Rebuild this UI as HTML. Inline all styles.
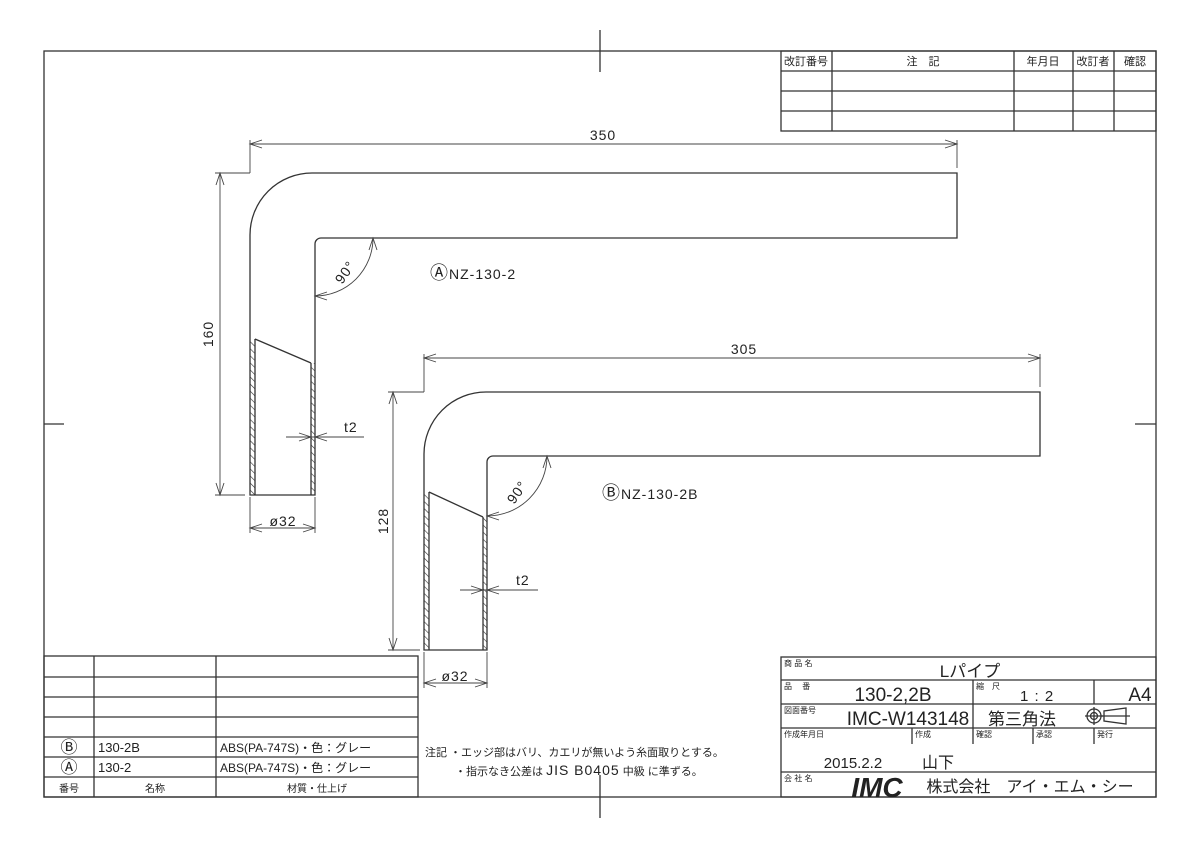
<!DOCTYPE html>
<html><head><meta charset="utf-8"><style>
html,body{margin:0;padding:0;background:#fff}
svg{display:block}
text{font-family:"Liberation Sans","Noto Sans CJK JP",sans-serif;fill:#222}
</style></head><body>
<svg width="1200" height="848" viewBox="0 0 1200 848" xmlns="http://www.w3.org/2000/svg">
<defs>
<pattern id="h" width="5" height="5" patternUnits="userSpaceOnUse" patternTransform="rotate(-45)">
<line x1="0" y1="0" x2="0" y2="5" stroke="#333" stroke-width="1.2"/>
</pattern>
</defs>
<g fill="none" stroke="#333" stroke-width="1.3">
<rect x="44" y="51" width="1112" height="746"/>
<line x1="600" y1="30" x2="600" y2="72"/>
<line x1="600" y1="775" x2="600" y2="818"/>
<line x1="44" y1="424" x2="64" y2="424"/>
<line x1="1135" y1="424" x2="1156" y2="424"/>
<rect x="781" y="51" width="375" height="80"/>
<line x1="781" y1="71" x2="1156" y2="71"/>
<line x1="781" y1="91" x2="1156" y2="91"/>
<line x1="781" y1="111" x2="1156" y2="111"/>
<line x1="832" y1="51" x2="832" y2="131"/>
<line x1="1014" y1="51" x2="1014" y2="131"/>
<line x1="1073" y1="51" x2="1073" y2="131"/>
<line x1="1114" y1="51" x2="1114" y2="131"/>
<rect x="44" y="656" width="374" height="141"/>
<line x1="44" y1="677" x2="418" y2="677"/>
<line x1="44" y1="697" x2="418" y2="697"/>
<line x1="44" y1="717" x2="418" y2="717"/>
<line x1="44" y1="737" x2="418" y2="737"/>
<line x1="44" y1="757" x2="418" y2="757"/>
<line x1="44" y1="777" x2="418" y2="777"/>
<line x1="94" y1="656" x2="94" y2="797"/>
<line x1="216" y1="656" x2="216" y2="797"/>
<rect x="781" y="657" width="375" height="140"/>
<line x1="781" y1="680" x2="1156" y2="680"/>
<line x1="781" y1="704" x2="1156" y2="704"/>
<line x1="781" y1="728" x2="1156" y2="728"/>
<line x1="781" y1="772" x2="1156" y2="772"/>
<line x1="973" y1="680" x2="973" y2="744"/>
<line x1="1094" y1="680" x2="1094" y2="704"/>
<line x1="912" y1="728" x2="912" y2="744"/>
<line x1="1033" y1="728" x2="1033" y2="744"/>
<line x1="1094" y1="728" x2="1094" y2="744"/>
<path d="M250 495 L250 235 A62 62 0 0 1 312 173 L957 173 L957 238 L321 238 A6 6 0 0 0 315 244 L315 495 Z"/>
<line x1="255" y1="339" x2="311" y2="363"/>
<line x1="255" y1="339" x2="255" y2="495"/>
<line x1="311" y1="363" x2="311" y2="495"/>
<path d="M424 650 L424 454 A62 62 0 0 1 486 392 L1040 392 L1040 456 L493 456 A6 6 0 0 0 487 462 L487 650 Z"/>
<line x1="429" y1="492" x2="483" y2="517"/>
<line x1="429" y1="492" x2="429" y2="650"/>
<line x1="483" y1="517" x2="483" y2="650"/>
</g>
<g stroke="none" fill="url(#h)">
<rect x="250" y="339" width="5" height="156"/>
<rect x="311" y="363" width="4" height="132"/>
<rect x="424" y="492" width="5" height="158"/>
<rect x="483" y="517" width="4" height="133"/>
</g>
<g fill="none" stroke="#444" stroke-width="0.9">
<line x1="250" y1="140" x2="250" y2="173"/>
<line x1="957" y1="140" x2="957" y2="168"/>
<line x1="250" y1="144" x2="957" y2="144"/>
<path d="M262 140 L250 144 L262 148 M945 140 L957 144 L945 148"/>
<line x1="215" y1="173" x2="250" y2="173"/>
<line x1="215" y1="495" x2="245" y2="495"/>
<line x1="220" y1="173" x2="220" y2="495"/>
<path d="M216 185 L220 173 L224 185 M216 483 L220 495 L224 483"/>
<line x1="250" y1="497" x2="250" y2="533"/>
<line x1="315" y1="497" x2="315" y2="533"/>
<line x1="250" y1="528" x2="315" y2="528"/>
<path d="M262 524 L250 528 L262 532 M303 524 L315 528 L303 532"/>
<line x1="286" y1="437" x2="364" y2="437"/>
<path d="M299 433 L311 437 L299 441 M327 433 L315 437 L327 441"/>
<path d="M373 238 A58 58 0 0 1 315 296"/>
<path d="M369 250 L373 238 L377 250 M327 292 L315 296 L327 300"/>
<line x1="424" y1="354" x2="424" y2="392"/>
<line x1="1040" y1="354" x2="1040" y2="387"/>
<line x1="424" y1="358" x2="1040" y2="358"/>
<path d="M436 354 L424 358 L436 362 M1028 354 L1040 358 L1028 362"/>
<line x1="388" y1="392" x2="424" y2="392"/>
<line x1="388" y1="650" x2="420" y2="650"/>
<line x1="393" y1="392" x2="393" y2="650"/>
<path d="M389 404 L393 392 L397 404 M389 638 L393 650 L397 638"/>
<line x1="424" y1="652" x2="424" y2="688"/>
<line x1="487" y1="652" x2="487" y2="688"/>
<line x1="424" y1="683" x2="487" y2="683"/>
<path d="M436 679 L424 683 L436 687 M475 679 L487 683 L475 687"/>
<line x1="460" y1="590" x2="538" y2="590"/>
<path d="M471 586 L483 590 L471 594 M499 586 L487 590 L499 594"/>
<path d="M547 456 A60 60 0 0 1 487 516"/>
<path d="M543 468 L547 456 L551 468 M499 512 L487 516 L499 520"/>
</g>
<g font-size="14" letter-spacing="1">
<text x="603" y="140" text-anchor="middle">350</text>
<text x="744" y="354" text-anchor="middle">305</text>
<text transform="translate(213,334) rotate(-90)" text-anchor="middle">160</text>
<text transform="translate(388,521) rotate(-90)" text-anchor="middle">128</text>
<text x="283" y="526" text-anchor="middle">ø32</text>
<text x="455" y="681" text-anchor="middle">ø32</text>
<text x="344" y="432">t2</text>
<text x="516" y="585">t2</text>
<text transform="translate(349,275) rotate(-55)" text-anchor="middle">90°</text>
<text transform="translate(521,495) rotate(-55)" text-anchor="middle">90°</text>
<text x="430" y="279"><tspan font-size="18">Ⓐ</tspan>NZ-130-2</text>
<text x="602" y="499"><tspan font-size="18">Ⓑ</tspan>NZ-130-2B</text>
</g>
<g font-size="11">
<text x="806" y="65" text-anchor="middle">改訂番号</text>
<text x="923" y="65" text-anchor="middle">注　記</text>
<text x="1043" y="65" text-anchor="middle">年月日</text>
<text x="1093" y="65" text-anchor="middle">改訂者</text>
<text x="1135" y="65" text-anchor="middle">確認</text>
<text x="69" y="753" text-anchor="middle" font-size="17">Ⓑ</text>
<text x="69" y="773" text-anchor="middle" font-size="17">Ⓐ</text>
<text x="69" y="792" text-anchor="middle" font-size="10">番号</text>
<text x="98" y="752" font-size="13">130-2B</text>
<text x="98" y="772" font-size="13">130-2</text>
<text x="155" y="792" text-anchor="middle" font-size="10">名称</text>
<text x="220" y="752" font-size="12">ABS(PA-747S)・色：グレー</text>
<text x="220" y="772" font-size="12">ABS(PA-747S)・色：グレー</text>
<text x="317" y="792" text-anchor="middle" font-size="10">材質・仕上げ</text>
<text x="425" y="756" font-size="11">注記 ・エッジ部はバリ、カエリが無いよう糸面取りとする。</text>
<text x="455" y="775" font-size="11">・指示なき公差は <tspan font-size="14" letter-spacing="1">JIS  B0405</tspan>  中級  に準ずる。</text>
<g font-size="8">
<text x="784" y="666">商 品 名</text>
<text x="784" y="689">品　 番</text>
<text x="784" y="713">図面番号</text>
<text x="784" y="737">作成年月日</text>
<text x="915" y="737">作成</text>
<text x="976" y="737">確認</text>
<text x="1036" y="737">承認</text>
<text x="1097" y="737">発行</text>
<text x="784" y="781">会 社 名</text>
<text x="976" y="689">縮　尺</text>
</g>
<text x="970" y="677" text-anchor="middle" font-size="17">Lパイプ</text>
<text x="893" y="701" text-anchor="middle" font-size="19">130-2,2B</text>
<text x="1020" y="701" font-size="15" letter-spacing="1">1 : 2</text>
<text x="1140" y="701" text-anchor="middle" font-size="19">A4</text>
<text x="908" y="725" text-anchor="middle" font-size="19">IMC-W143148</text>
<text x="1022" y="725" text-anchor="middle" font-size="17" fill="#555">第三角法</text>
<text x="853" y="768" text-anchor="middle" font-size="15">2015.2.2</text>
<text x="938" y="768" text-anchor="middle" font-size="16">山下</text>
<text x="877" y="797" text-anchor="middle" font-size="28" font-weight="bold" font-style="italic">IMC</text>
<text x="1030" y="792" text-anchor="middle" font-size="16">株式会社　アイ・エム・シー</text>
</g>
<g fill="none" stroke="#333" stroke-width="1.3">
<circle cx="1094" cy="716" r="7"/><circle cx="1094" cy="716" r="3.5"/>
<line x1="1085" y1="716" x2="1103" y2="716"/><line x1="1094" y1="707" x2="1094" y2="725"/>
<path d="M1104 711 L1104 721 L1126 724 L1126 708 Z"/>
<line x1="1101" y1="716" x2="1130" y2="716"/>
</g>
</svg>
</body></html>
